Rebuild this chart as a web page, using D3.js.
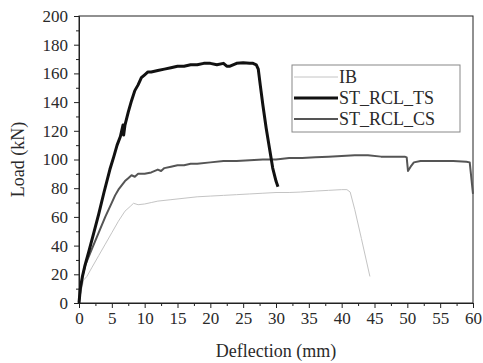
<!DOCTYPE html>
<html>
<head>
<meta charset="utf-8">
<script src="https://cdn.jsdelivr.net/npm/d3@7"></script>
<style>
  body { margin: 0; background: #fff; }
  svg text { font-family: "Liberation Serif", "Times New Roman", Times, serif; fill: #2a2a2a; }
  .axis path, .axis line { stroke: #222; }
</style>
</head>
<body>
<svg id="chart" width="483" height="363"></svg>
<script>
// series names, values
const seriesNames = ['IB', 'ST_RCL_TS', 'ST_RCL_CS'];

const ibX = [0, 0.3, 0.7, 1.2, 2, 3, 4, 5, 6, 7, 7.8, 8.3, 9, 10, 11, 12, 14, 16, 18, 20, 22, 24, 26, 28, 30, 32, 33.7, 36, 38, 40, 40.8, 41.3, 42, 43, 44.3];
const ibY = [0, 8, 16, 18.5, 25, 33, 41, 49, 57, 64, 67.3, 69.5, 68.5, 69, 70, 71, 72, 73, 74, 74.5, 75, 75.5, 76, 76.5, 77, 77, 77.3, 78, 78.5, 79, 79, 77.3, 65, 45, 18.5];

const tsX = [0, 0.2, 0.5, 0.9, 1.5, 2.2, 3, 3.8, 4.7, 5.3, 5.8, 6.3, 6.5, 6.7, 6.8, 7.0, 7.5, 8, 8.5, 9, 9.5, 10, 10.5, 11, 12, 13, 14, 15, 16, 17, 18, 19, 20, 21, 22, 22.5, 23, 24, 25, 26, 26.5, 27, 27.3, 27.6, 28, 28.5, 29, 29.5, 30, 30.3];
const tsY = [0, 10, 18, 26, 36, 48, 62, 77, 93, 102, 110, 116, 120, 124, 117, 124, 133, 141, 148, 152, 157, 159, 161, 161, 162, 163, 164, 165, 165, 166, 166, 167, 167, 166, 167, 165, 165, 167, 167.5, 167, 167, 166, 163, 152, 138, 122, 108, 94, 85, 81];

const csX = [0, 0.3, 0.6, 1, 2, 3, 4, 5, 5.5, 6, 6.5, 7, 7.5, 8, 8.5, 9, 9.5, 10, 11, 12, 12.5, 13, 14, 15, 16, 17, 18, 20, 22, 24, 26, 28, 30, 32, 34, 36, 38, 40, 42, 44, 46, 48, 49.6, 49.9, 50.1, 50.5, 51, 52, 55, 57, 59, 59.5, 60];
const csY = [0, 12, 20, 27, 38, 49, 60, 70, 75, 79, 82, 85, 87, 89, 88, 90, 90, 90, 91, 93, 92, 94, 95, 96, 96, 97, 97, 98, 99, 99, 99.5, 100, 100, 101, 101, 101.5, 102, 102.5, 103, 103, 102, 102, 102, 101.5, 92, 95, 98, 99, 99, 99, 98.5, 98, 76];

const xTicks = [0, 5, 10, 15, 20, 25, 30, 35, 40, 45, 50, 55, 60];
const yTicks = [0, 20, 40, 60, 80, 100, 120, 140, 160, 180, 200];

const FONT = '"Liberation Serif", "Times New Roman", Times, serif';

const svg = d3.select('svg#chart');
const margin = { top: 16, right: 10, bottom: 60, left: 79 };
const width = 483 - margin.left - margin.right;
const height = 363 - margin.top - margin.bottom;

const g = svg.append('g')
  .attr('transform', `translate(${margin.left},${margin.top})`);

const xScale = d3.scaleLinear().domain([0, 60]).range([0, width]);
const yScale = d3.scaleLinear().domain([0, 200]).range([height, 0]);

// minor ticks
const xMinor = d3.range(2.5, 60, 5);
const yMinor = d3.range(10, 200, 20);

g.append('g')
    .attr('class', 'axis')
    .attr('transform', `translate(0,${height})`)
  .call(d3.axisBottom(xScale).tickValues(xMinor).tickSize(3).tickFormat(''))
  .select('.domain').remove();
g.append('g')
    .attr('class', 'axis')
  .call(d3.axisLeft(yScale).tickValues(yMinor).tickSize(3).tickFormat(''))
  .select('.domain').remove();

const xAxisG = g.append('g')
    .attr('class', 'axis')
    .attr('transform', `translate(0,${height})`)
  .call(d3.axisBottom(xScale).tickValues(xTicks).tickSizeOuter(0).tickSize(5).tickPadding(4));
xAxisG.attr('font-family', FONT).selectAll('text').style('font-size', '17px');

const yAxisG = g.append('g')
    .attr('class', 'axis')
  .call(d3.axisLeft(yScale).tickValues(yTicks).tickSizeOuter(0).tickSize(5).tickPadding(6));
yAxisG.attr('font-family', FONT).selectAll('text').style('font-size', '17px');

// frame
g.append('rect')
  .attr('width', width)
  .attr('height', height)
  .attr('fill', 'none')
  .attr('stroke', '#222')
  .attr('stroke-width', 1);

const series = [
  { name: seriesNames[0], xs: ibX, ys: ibY, color: '#c4c4c4', w: 1 },
  { name: seriesNames[2], xs: csX, ys: csY, color: '#555', w: 2 },
  { name: seriesNames[1], xs: tsX, ys: tsY, color: '#111', w: 3 }
];

const line = d3.line()
  .x(d => xScale(d[0]))
  .y(d => yScale(d[1]));

series.forEach(s => {
  g.append('path')
    .datum(d3.zip(s.xs, s.ys))
    .attr('fill', 'none')
    .attr('stroke', s.color)
    .attr('stroke-width', s.w)
    .attr('stroke-linejoin', 'round')
    .attr('d', line);
});

// legend
const legend = svg.append('g').attr('transform', 'translate(292,65)');
legend.append('rect')
  .attr('width', 168)
  .attr('height', 67)
  .attr('fill', '#fff')
  .attr('stroke', '#888');
const legendItems = [series[0], series[2], series[1]];
legendItems.forEach((s, i) => {
  const yy = 12 + i * 21;
  legend.append('line')
    .attr('x1', 2).attr('x2', 46)
    .attr('y1', yy).attr('y2', yy)
    .attr('stroke', s.color)
    .attr('stroke-width', s.w);
  legend.append('text')
    .attr('x', 47)
    .attr('y', yy + 6)
    .attr('font-family', FONT)
    .style('font-size', '18px')
    .text(s.name);
});

// axis labels
svg.append('text')
  .attr('x', margin.left + width / 2)
  .attr('y', 357)
  .attr('text-anchor', 'middle')
  .attr('font-family', FONT)
  .style('font-size', '18px')
  .text('Deflection (mm)');

svg.append('text')
  .attr('transform', `translate(24,${margin.top + height / 2}) rotate(-90)`)
  .attr('text-anchor', 'middle')
  .attr('font-family', FONT)
  .style('font-size', '18px')
  .text('Load (kN)');
</script>
</body>
</html>
